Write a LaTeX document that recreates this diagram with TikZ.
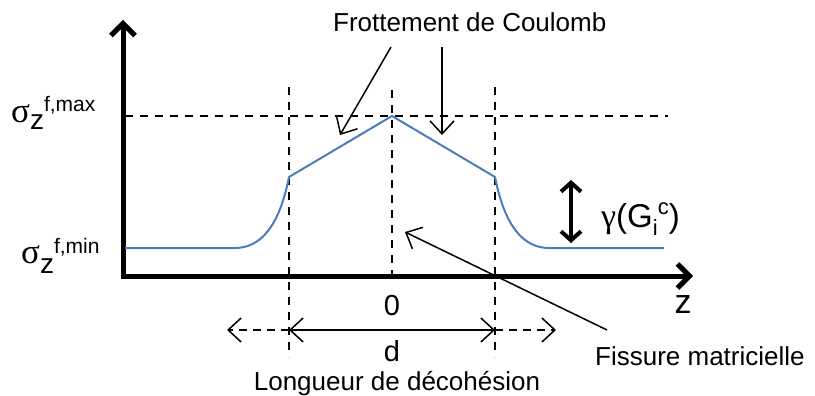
\documentclass[tikz,border=0pt]{standalone}
\usepackage{fontspec}
\setmainfont{Liberation Sans}
\newfontfamily\greekfont{Liberation Serif}
\usetikzlibrary{arrows.meta,positioning,calc}
\definecolor{curveblue}{RGB}{74,126,187}

\begin{document}
\begin{tikzpicture}[x=1pt,y=-1pt,
    axis/.style={line width=5pt,line join=miter},
    guide/.style={line width=2pt,dash pattern=on 8pt off 7pt},
    pointer/.style={line width=1.5pt,-{Straight Barb[length=13pt,width=24pt]}},
    txt/.style={inner sep=0pt,font=\fontsize{26}{30}\selectfont}]
    \useasboundingbox (0,0) rectangle (815,396);

    % Axes
    \coordinate (ytop) at (123,20);
    \coordinate (origin) at (123,276);
    \coordinate (xend) at (693,276);
    \draw[axis,{Straight Barb[length=12pt,width=24pt]}-{Straight Barb[length=12pt,width=24pt]}] (ytop) -- (origin) -- (xend);
    \node[txt,anchor=base,font=\fontsize{34}{34}\selectfont] (zlabel) at (683,313) {z};

    % Levels on the stress axis
    \node[inner sep=0pt,anchor=base west] (smax) at (11,122)
      {{\greekfont\fontsize{35}{35}\selectfont σ}\raisebox{-8pt}{\fontsize{28}{28}\selectfont z}\raisebox{10pt}{\fontsize{21}{21}\selectfont f,max}};
    \node[inner sep=0pt,anchor=base west] (smin) at (21,263)
      {{\greekfont\fontsize{35}{35}\selectfont σ}\raisebox{-10pt}{\fontsize{28}{28}\selectfont z}\raisebox{10pt}{\fontsize{21}{21}\selectfont f,min}};

    % Guide lines
    \draw[guide] (125,116) -- (668,116);
    \draw[guide] (289,87) -- (289,357);
    \draw[guide] (392,90) -- (392,278);
    \draw[guide] (495,87) -- (495,357);

    % Stress profile
    \draw[curveblue,line width=2pt,line join=round] (125,248) -- (235,248)
      .. controls (268,248) and (282,212) .. (289,177) -- (392,116) -- (495,177)
      .. controls (502,212) and (516,248) .. (549,248) -- (664,248);

    % Jump gamma(Gic)
    \coordinate (gtop) at (571,180);
    \coordinate (gbot) at (571,243);
    \draw[line width=4pt,{Straight Barb[length=9pt,width=20pt]}-{Straight Barb[length=9pt,width=20pt]}] (gtop) -- (gbot);
    \node[inner sep=0pt,anchor=base west] (gamma) at (601,227)
      {{\greekfont\fontsize{34}{34}\selectfont γ}\fontsize{33}{33}\selectfont(G\raisebox{-8pt}{\fontsize{22}{22}\selectfont i}\raisebox{13pt}{\fontsize{22}{22}\selectfont c})};

    % Coulomb friction
    \node[txt,anchor=base west] (coulomb) at (333,32) {Frottement de Coulomb};
    \coordinate (cl) at (391,47);
    \coordinate (cr) at (442,47);
    \coordinate (slopeL) at (340,135);
    \coordinate (slopeR) at (442,135);
    \draw[pointer] (cl) -- (slopeL);
    \draw[pointer] (cr) -- (slopeR);

    % Matrix crack
    \node[txt,anchor=base west] (crack) at (595,365) {Fissure matricielle};
    \coordinate (cs) at (607,330);
    \coordinate (ctip) at (405,232);
    \draw[pointer] (cs) -- (ctip);

    % Debonding length
    \node[txt,anchor=base,font=\fontsize{29}{29}\selectfont] (zero) at (392,315) {0};
    \coordinate (dl) at (289,330);
    \coordinate (dr) at (495,330);
    \coordinate (dll) at (227,330);
    \coordinate (drr) at (556,330);
    \draw[line width=1.5pt,{Straight Barb[length=13pt,width=24pt]}-{Straight Barb[length=13pt,width=24pt]}] (dl) -- (dr);
    \draw[pointer,dash pattern=on 8pt off 6pt] (dl) -- (dll);
    \draw[pointer,dash pattern=on 8pt off 6pt] (dr) -- (drr);
    \node[txt,anchor=base,font=\fontsize{29}{29}\selectfont] (dlabel) at (392,361) {d};
    \node[txt,anchor=base] (debond) at (397,390) {Longueur de décohésion};
\end{tikzpicture}
\end{document}
